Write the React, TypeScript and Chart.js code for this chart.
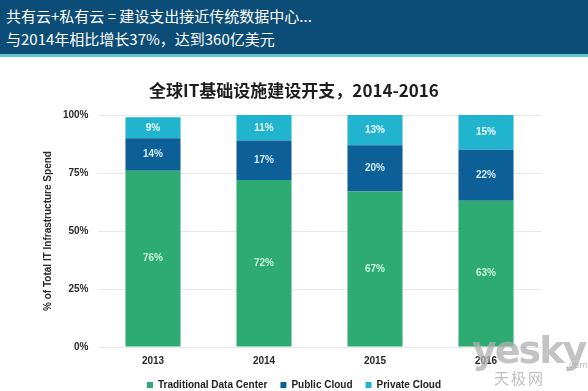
import React, { useEffect, useRef } from "react";
import { Chart, registerables } from "chart.js";

Chart.register(...registerables);

const years = ["2013", "2014", "2015", "2016"];
const traditional = [76, 72, 67, 63];
const publicCloud = [14, 17, 20, 22];
const privateCloud = [9, 11, 13, 15];
const yTicks = [0, 25, 50, 75, 100];
const seriesNames = ["Traditional Data Center", "Public Cloud", "Private Cloud"];
const chartTitle = "全球IT基础设施建设开支，2014-2016";
const yTitle = "% of Total IT Infrastructure Spend";
const headline1 = "共有云+私有云 = 建设支出接近传统数据中心...";
const headline2 = "与2014年相比增长37%，达到360亿美元";

const COLORS = ["#2eab73", "#0d5f98", "#21b4cf"];
const LABEL_COLORS = ["#c8f3dc", "#d2ecf8", "#eafbff"];
const FONT = "'Liberation Sans', Arial, sans-serif";

const segLabels = {
  id: "segLabels",
  afterDatasetsDraw(chart: any) {
    const ctx = chart.ctx;
    chart.data.datasets.forEach((ds: any, i: number) => {
      const meta = chart.getDatasetMeta(i);
      meta.data.forEach((el: any, j: number) => {
        const v = ds.data[j];
        const p = el.getProps(["x", "y", "base"], true);
        ctx.save();
        ctx.fillStyle = LABEL_COLORS[i];
        ctx.font = `bold 10px ${FONT}`;
        ctx.textAlign = "center";
        ctx.textBaseline = "middle";
        ctx.fillText(`${v}%`, p.x, (p.y + p.base) / 2);
        ctx.restore();
      });
    });
  },
};

export default function App() {
  const ref = useRef<HTMLCanvasElement>(null);
  useEffect(() => {
    if (!ref.current) return;
    const chart = new Chart(ref.current, {
      type: "bar",
      data: {
        labels: years,
        datasets: [traditional, publicCloud, privateCloud].map((d, i) => ({
          label: seriesNames[i],
          data: d,
          backgroundColor: COLORS[i],
          borderWidth: 0,
          categoryPercentage: 0.8,
          barPercentage: 0.62,
        })),
      },
      options: {
        animation: false,
        responsive: false,
        maintainAspectRatio: false,
        layout: { padding: 0 },
        scales: {
          x: {
            stacked: true,
            grid: { display: false, drawTicks: false },
            border: { display: false },
            ticks: { color: "#2a2a2a", font: { family: FONT, size: 10, weight: "bold" }, padding: 8 },
            afterFit: (s: any) => {
              s.height = 20;
            },
          },
          y: {
            stacked: true,
            min: 0,
            max: 100,
            afterBuildTicks: (axis: any) => {
              axis.ticks = yTicks.map((v) => ({ value: v }));
            },
            grid: { color: "#e8e8e8", lineWidth: 1, drawTicks: false },
            border: { display: false },
            ticks: {
              color: "#2a2a2a",
              font: { family: FONT, size: 10, weight: "bold" },
              padding: 9,
              callback: (v: any) => `${v}%`,
            },
            title: {
              display: true,
              text: yTitle,
              color: "#2a2a2a",
              font: { family: FONT, size: 10, weight: "bold" },
              padding: { top: 42, bottom: 0 },
            },
            afterFit: (s: any) => {
              s.width = 97.5;
            },
          },
          yRight: {
            position: "right",
            display: true,
            grid: { display: false, drawTicks: false },
            border: { display: false },
            ticks: { display: false },
            afterFit: (s: any) => {
              s.width = 46.5;
            },
          },
        },
        plugins: {
          title: {
            display: true,
            text: chartTitle,
            color: "#1e1e1e",
            font: { family: "'Noto Sans CJK SC', sans-serif", size: 17, weight: "bold" },
            padding: { top: 23.8, bottom: 13.8 },
          },
          legend: {
            position: "bottom",
            labels: {
              boxWidth: 6,
              boxHeight: 6,
              padding: 13,
              color: "#222",
              font: { family: FONT, size: 10, weight: "bold" },
            },
          },
          tooltip: { enabled: false },
        },
      } as any,
      plugins: [segLabels],
    });
    return () => chart.destroy();
  }, []);

  return (
    <div
      style={{
        position: "fixed",
        left: 0,
        top: 0,
        width: 588,
        height: 391,
        overflow: "hidden",
        background: "#ffffff",
      }}
    >
      <div
        style={{
          position: "absolute",
          left: 0,
          top: 0,
          width: 588,
          height: 54,
          background: "#0c4d78",
          borderBottom: "3px solid #62c4cc",
          color: "#ffffff",
          fontFamily: "'Noto Sans CJK SC', sans-serif",
          fontSize: 15,
          lineHeight: "23px",
          boxSizing: "content-box",
        }}
      >
        <div style={{ position: "absolute", left: 6, top: 4, whiteSpace: "nowrap" }}>
          <div>{headline1}</div>
          <div>{headline2}</div>
        </div>
      </div>
      <canvas
        ref={ref}
        width={588}
        height={343}
        style={{ position: "absolute", left: 0, top: 57, width: 588, height: 343 }}
      />
      <div
        style={{
          position: "absolute",
          left: 472,
          top: 330,
          color: "rgba(175,175,175,0.75)",
          fontFamily: "'DejaVu Sans', sans-serif",
          fontWeight: "bold",
          fontSize: 38,
          letterSpacing: -2,
          lineHeight: "40px",
          whiteSpace: "nowrap",
        }}
      >
        yesky
      </div>
      <div
        style={{
          position: "absolute",
          left: 566,
          top: 360,
          color: "rgba(175,175,175,0.8)",
          fontFamily: "'DejaVu Sans', sans-serif",
          fontSize: 9,
        }}
      >
        .com
      </div>
      <div
        style={{
          position: "absolute",
          left: 494,
          top: 369,
          color: "rgba(175,175,175,0.8)",
          fontFamily: "'Noto Sans CJK SC', sans-serif",
          fontSize: 15,
          letterSpacing: 2,
          lineHeight: "18px",
        }}
      >
        天极网
      </div>
    </div>
  );
}
